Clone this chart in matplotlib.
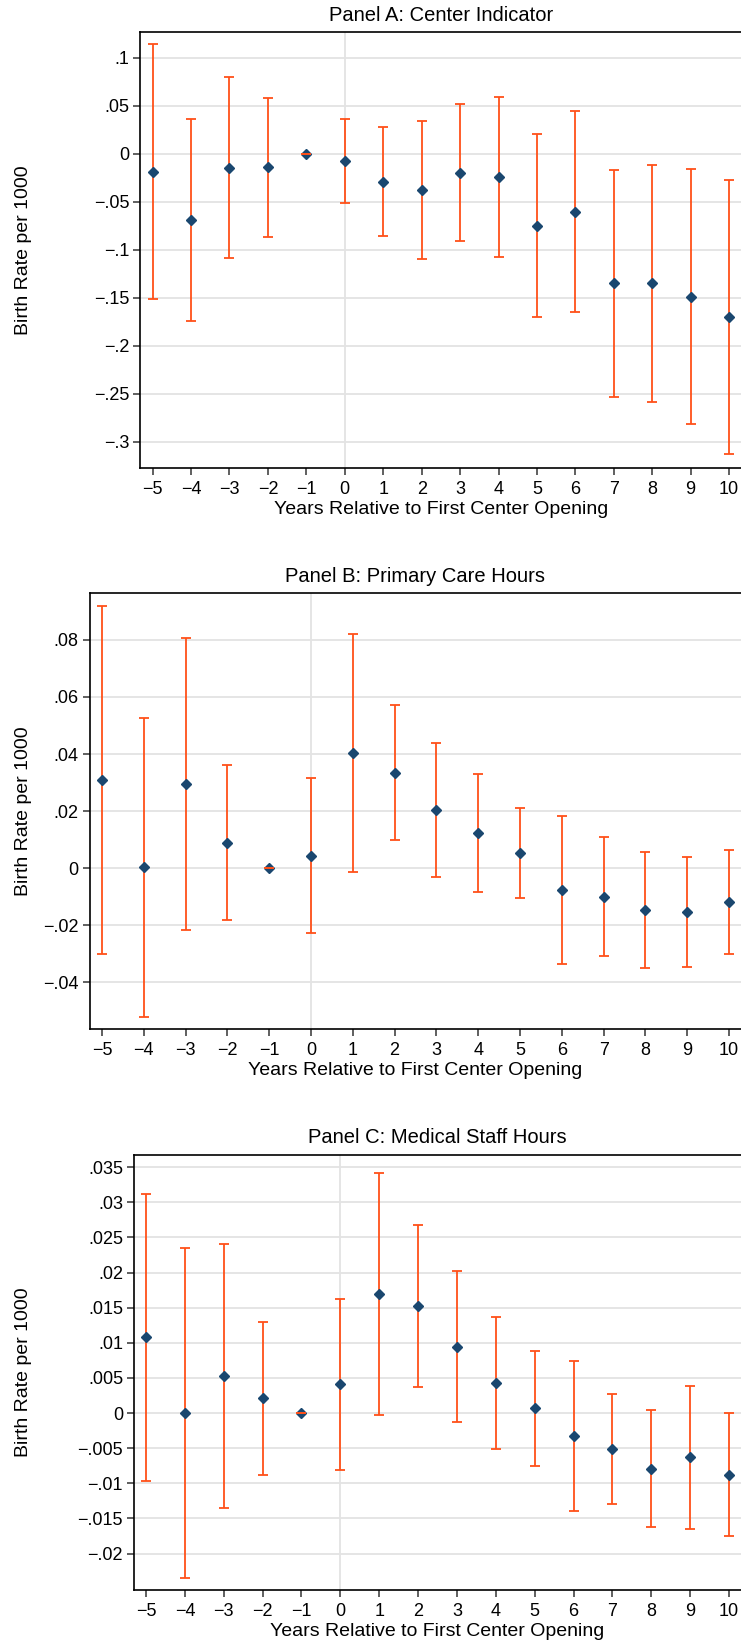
import matplotlib
matplotlib.use("Agg")
import matplotlib.pyplot as plt
import numpy as np

plt.rcParams['font.family'] = ['Liberation Sans', 'DejaVu Sans']

years = [-5, -4, -3, -2, -1, 0, 1, 2, 3, 4, 5, 6, 7, 8, 9, 10]

# Panel A: Center Indicator
a_est = [-0.0191, -0.0693, -0.0149, -0.0142, 0.0, -0.0076, -0.0291, -0.0378,
         -0.0198, -0.0243, -0.0749, -0.0607, -0.1352, -0.1352, -0.1490, -0.1705]
a_hi = [0.1137, 0.0364, 0.0794, 0.0582, 0.0, 0.0364, 0.0277, 0.0343,
        0.0516, 0.0593, 0.0205, 0.0444, -0.0170, -0.0114, -0.0159, -0.0274]
a_lo = [-0.1511, -0.1747, -0.1088, -0.0870, 0.0, -0.0510, -0.0853, -0.1095,
        -0.0908, -0.1078, -0.1698, -0.1653, -0.2534, -0.2586, -0.2818, -0.3133]

# Panel B: Primary Care Hours
b_est = [0.0309, 0.0004, 0.0295, 0.0089, 0.0, 0.0044, 0.0403, 0.0335,
         0.0203, 0.0123, 0.0053, -0.0076, -0.0099, -0.0146, -0.0153, -0.0117]
b_hi = [0.0919, 0.0527, 0.0807, 0.0360, 0.0, 0.0316, 0.0820, 0.0572,
        0.0437, 0.0329, 0.0211, 0.0182, 0.0110, 0.0057, 0.0039, 0.0063]
b_lo = [-0.0300, -0.0520, -0.0216, -0.0182, 0.0, -0.0227, -0.0012, 0.0099,
        -0.0029, -0.0084, -0.0104, -0.0334, -0.0307, -0.0350, -0.0346, -0.0299]

# Panel C: Medical Staff Hours
c_est = [0.0108, 0.0000, 0.0053, 0.0021, 0.0, 0.0041, 0.0169, 0.0152,
         0.0094, 0.0043, 0.0007, -0.0032, -0.0051, -0.0079, -0.0063, -0.0088]
c_hi = [0.0312, 0.0235, 0.0241, 0.0129, 0.0, 0.0163, 0.0342, 0.0268,
        0.0202, 0.0137, 0.0089, 0.0074, 0.0027, 0.0005, 0.0039, 0.0000]
c_lo = [-0.0096, -0.0234, -0.0135, -0.0088, 0.0, -0.0081, -0.0003, 0.0037,
        -0.0013, -0.0051, -0.0075, -0.0139, -0.0130, -0.0162, -0.0165, -0.0175]

titles = ["Panel A: Center Indicator", "Panel B: Primary Care Hours",
          "Panel C: Medical Staff Hours"]
a_ticks = [0.1, 0.05, 0.0, -0.05, -0.1, -0.15, -0.2, -0.25, -0.3]
a_labels = [".1", ".05", "0", "\u2212.05", "\u2212.1", "\u2212.15", "\u2212.2", "\u2212.25", "\u2212.3"]
b_ticks = [0.08, 0.06, 0.04, 0.02, 0.0, -0.02, -0.04]
b_labels = [".08", ".06", ".04", ".02", "0", "\u2212.02", "\u2212.04"]
c_ticks = [0.035, 0.03, 0.025, 0.02, 0.015, 0.01, 0.005, 0.0, -0.005, -0.01, -0.015, -0.02]
c_labels = [".035", ".03", ".025", ".02", ".015", ".01", ".005", "0",
            "\u2212.005", "\u2212.01", "\u2212.015", "\u2212.02"]
x_labels = ["\u22125", "\u22124", "\u22123", "\u22122", "\u22121", "0", "1", "2", "3",
            "4", "5", "6", "7", "8", "9", "10"]

W, H = 741, 1642
fig = plt.figure(figsize=(W / 100, H / 100), dpi=100)

# (left_px, top_px, bottom_px, xlim, ylim)
layout = [
    (140.4, 32.3, 467.7, (-5.318, 10.31), (-0.3271, 0.1264)),
    (89.8, 593.3, 1029.0, (-5.292, 10.287), (-0.0563, 0.0963)),
    (134.2, 1154.6, 1589.8, (-5.304, 10.31), (-0.02515, 0.0368)),
]
panels = [(a_est, a_lo, a_hi, a_ticks, a_labels),
          (b_est, b_lo, b_hi, b_ticks, b_labels),
          (c_est, c_lo, c_hi, c_ticks, c_labels)]

orange = '#ff5019'
navy = '#1a476f'
grid = '#e3e3e3'

for (lp, tp, bp, xl, yl), (est, lo, hi, yt, ytl), title in zip(layout, panels, titles):
    ax = fig.add_axes([lp / W, 1 - bp / H, (W - lp) / W, (bp - tp) / H])
    ax.set_xlim(*xl)
    ax.set_ylim(*yl)
    for y in yt:
        ax.axhline(y, color=grid, lw=1.3, zorder=0)
    ax.axvline(0, color=grid, lw=1.3, zorder=0)
    est = np.array(est)
    lo = np.array(lo)
    hi = np.array(hi)
    eb = ax.errorbar(years, est, yerr=[est - lo, hi - est], fmt='none',
                     ecolor=orange, elinewidth=1.3, capsize=3.6, capthick=1.3, zorder=2)
    for cl in eb[1]:
        cl.set_zorder(4)
    ax.plot(years, est, linestyle='none', marker='D', markersize=5.5,
            color=navy, markeredgecolor=navy, zorder=3)
    ax.set_yticks(yt)
    ax.set_yticklabels(ytl)
    ax.set_xticks(years)
    ax.set_xticklabels(x_labels)
    ax.tick_params(axis='y', length=5, width=1.2, color='#444444', labelsize=13, pad=3)
    ax.tick_params(axis='x', length=5, width=1.2, color='#444444', labelsize=13, pad=4.5)
    for s in ['left', 'bottom', 'top']:
        ax.spines[s].set_color('black')
        ax.spines[s].set_linewidth(1.2)
    ax.spines['right'].set_visible(False)
    ax.set_title(title, fontsize=14.5, pad=8)
    ax.set_xlabel("Years Relative to First Center Opening", fontsize=14, labelpad=2)
    fig.text(23.6 / W, 1 - (tp + bp) / 2 / H, "Birth Rate per 1000",
             rotation=90, ha='center', va='center', fontsize=14)

fig.savefig("out.png", dpi=100)
